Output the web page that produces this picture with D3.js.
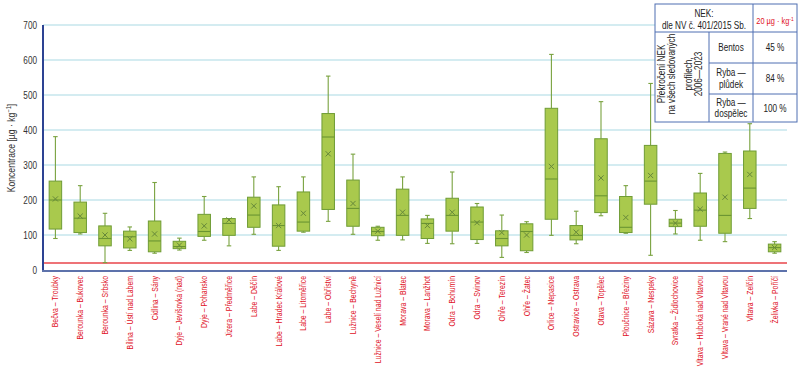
<!DOCTYPE html>
<html>
<head>
<meta charset="utf-8">
<script src="https://cdn.jsdelivr.net/npm/d3@7/dist/d3.min.js"></script>
<style>
  html, body { margin: 0; padding: 0; background: #fff; }
  svg { display: block; }
  text { font-family: "Liberation Sans", Arial, sans-serif; }
</style>
</head>
<body>
<svg id="chart" width="800" height="373"></svg>
<script>
const categories = [
  "Bečva – Troubky", "Berounka – Bukovec", "Berounka – Srbsko", "Bílina – Ústí nad Labem",
  "Cidlina – Sány", "Dyje – Jevišovka (nad)", "Dyje – Pohansko", "Jizera – Předměřice",
  "Labe – Děčín", "Labe – Hradec Králové", "Labe – Litoměřice", "Labe – Obříství",
  "Lužnice – Bechyně", "Lužnice – Veselí nad Lužnicí", "Morava – Blatec", "Morava – Lanžhot",
  "Odra – Bohumín", "Odra – Svinov", "Ohře – Terezín", "Ohře – Žatec",
  "Orlice – Nepasice", "Ostravice – Ostrava", "Otava – Topělec", "Ploučnice – Březiny",
  "Sázava – Nespeky", "Svratka – Židlochovice", "Vltava – Hluboká nad Vltavou",
  "Vltava – Vrané nad Vltavou", "Vltava – Zelčín", "Želivka – Poříčí"
];
const mins    = [ 90, 103,  21,  56,  48,  57,  85,  69, 102,  56, 108, 139, 102,  85,  86,  76,  75,  76,  36,  50,  99,  75, 155, 105,  42, 103,  85,  81, 147,  48];
const q1s     = [117, 107,  69,  63,  52,  61,  96,  99, 122,  68, 111, 173, 125,  98,  99,  90, 111,  87,  69,  55, 145,  86, 164, 107, 188, 124, 125, 105, 176,  52];
const medians = [200, 148,  90,  95,  83,  67, 110, 133, 157, 127, 137, 380, 176, 110, 156, 133, 156, 137,  90, 110, 260,  99, 212, 122, 254, 134, 171, 156, 234,  64];
const q3s     = [254, 194, 126, 111, 140,  82, 159, 147, 208, 186, 223, 447, 257, 122, 231, 146, 205, 180, 112, 132, 462, 127, 375, 210, 356, 145, 220, 333, 340,  74];
const maxs    = [381, 241, 162, 123, 250,  91, 210, 146, 266, 238, 266, 554, 331, 125, 266, 156, 280, 190, 157, 138, 616, 168, 481, 241, 533, 170, 276, 337, 418,  81];
const means   = [203, 154, 100,  89, 103,  71, 126, 143, 183, 127, 162, 332, 190, 111, 165, 127, 165, 135, 107, 100, 296, 108, 263, 150, 270, 134, 174, 208, 273,  64];
const yTicks  = [0, 100, 200, 300, 400, 500, 600, 700];
const limitValue = 20;

const tableRows = [
  { label: ["Bentos"], value: "45 %" },
  { label: ["Ryba —", "plůdek"], value: "84 %" },
  { label: ["Ryba —", "dospělec"], value: "100 %" }
];

const svg = d3.select("#chart");
const pLeft = 43, pRight = 787, pTop = 25, pBottom = 270;
const NARROW = 0.82; // emulate a condensed typeface

const x = d3.scaleBand().domain(categories).range([pLeft, pRight]);
const y = d3.scaleLinear().domain([0, 700]).range([pBottom, pTop]);

// gridlines
svg.append("g").selectAll("line").data(yTicks.filter(t => t > 0)).join("line")
  .attr("x1", pLeft).attr("x2", pRight)
  .attr("y1", d => y(d)).attr("y2", d => y(d))
  .attr("stroke", "#d4ecf1").attr("stroke-width", 2);

// limit line (NEK 20)
svg.append("line")
  .attr("x1", pLeft).attr("x2", pRight)
  .attr("y1", y(limitValue)).attr("y2", y(limitValue))
  .attr("stroke", "#e8454a").attr("stroke-width", 1.6);

// y axis labels
const yAxis = d3.axisLeft(y).tickValues(yTicks).tickSize(0).tickPadding(6);
const gy = svg.append("g").attr("transform", `translate(${pLeft},0)`).call(yAxis);
gy.select(".domain").remove();
gy.selectAll("text")
  .attr("x", 0)
  .attr("transform", `translate(-6,0) scale(${NARROW},1)`)
  .attr("font-size", 10).attr("fill", "#333")
  .style("font-family", '"Liberation Sans", Arial, sans-serif');

// axes lines
svg.append("line").attr("x1", pLeft).attr("x2", pLeft).attr("y1", pTop).attr("y2", pBottom + 2)
  .attr("stroke", "#2d4393").attr("stroke-width", 2);
svg.append("line").attr("x1", pLeft - 1).attr("x2", pRight).attr("y1", pBottom + 1).attr("y2", pBottom + 1)
  .attr("stroke", "#5d72ab").attr("stroke-width", 2);

// y title
const yt = svg.append("text")
  .attr("transform", `translate(15,${148}) rotate(-90) scale(${NARROW},1)`)
  .attr("text-anchor", "middle").attr("font-size", 10.5).attr("fill", "#333");
yt.append("tspan").text("Koncentrace [µg · kg");
yt.append("tspan").attr("font-size", 7).attr("dy", -4).text("−1");
yt.append("tspan").attr("dy", 4).text("]");

// boxes
const bw = 12.5, capW = 4.5;
const idx = d3.range(categories.length);
const g = svg.append("g");
const boxes = g.selectAll("g.box").data(idx).join("g").attr("class", "box")
  .attr("transform", i => `translate(${x(categories[i]) + x.bandwidth() / 2},0)`);

const wc = "#79a23f";
boxes.append("line").attr("x1", 0).attr("x2", 0)
  .attr("y1", i => y(maxs[i])).attr("y2", i => y(q3s[i]))
  .attr("stroke", wc).attr("stroke-width", 1.1);
boxes.append("line").attr("x1", 0).attr("x2", 0)
  .attr("y1", i => y(q1s[i])).attr("y2", i => y(mins[i]))
  .attr("stroke", wc).attr("stroke-width", 1.1);
boxes.append("line").attr("x1", -capW / 2).attr("x2", capW / 2)
  .attr("y1", i => y(maxs[i])).attr("y2", i => y(maxs[i]))
  .attr("stroke", wc).attr("stroke-width", 1.1);
boxes.append("line").attr("x1", -capW / 2).attr("x2", capW / 2)
  .attr("y1", i => y(mins[i])).attr("y2", i => y(mins[i]))
  .attr("stroke", wc).attr("stroke-width", 1.1);
boxes.append("rect")
  .attr("x", -bw / 2).attr("width", bw)
  .attr("y", i => y(q3s[i])).attr("height", i => y(q1s[i]) - y(q3s[i]))
  .attr("fill", "#a9c94d").attr("stroke", "#6f9c35").attr("stroke-width", 1);
boxes.append("line").attr("x1", -bw / 2).attr("x2", bw / 2)
  .attr("y1", i => y(medians[i])).attr("y2", i => y(medians[i]))
  .attr("stroke", "#6a9432").attr("stroke-width", 1.1);
const m = 2.6;
boxes.append("path")
  .attr("d", i => { const cy = y(means[i]); return `M${-m},${cy - m}L${m},${cy + m}M${-m},${cy + m}L${m},${cy - m}`; })
  .attr("stroke", "#66883a").attr("stroke-width", 1).attr("fill", "none");

// x labels
svg.append("g").selectAll("text").data(categories).join("text")
  .attr("transform", d => `translate(${x(d) + x.bandwidth() / 2 + 3},276) rotate(-90) scale(${NARROW},1)`)
  .attr("text-anchor", "end").attr("font-size", 8.4).attr("fill", "#e0101e")
  .text(d => d);

// table
const T = { x0: 655, x1: 709, x2: 753, x3: 797, y0: 4, y1: 32, y2: 63, y3: 94, y4: 122 };
const tg = svg.append("g");
tg.append("rect").attr("x", T.x0).attr("y", T.y0).attr("width", T.x3 - T.x0).attr("height", T.y4 - T.y0)
  .attr("fill", "#fff").attr("stroke", "#4f6fb2").attr("stroke-width", 1);
const tl = (x1, y1, x2, y2) => tg.append("line").attr("x1", x1).attr("y1", y1).attr("x2", x2).attr("y2", y2)
  .attr("stroke", "#4f6fb2").attr("stroke-width", 1);
tl(T.x0, T.y1, T.x3, T.y1);
tl(T.x2, T.y0, T.x2, T.y4);
tl(T.x1, T.y1, T.x1, T.y4);
tl(T.x1, T.y2, T.x3, T.y2);
tl(T.x1, T.y3, T.x3, T.y3);

const fs = 10;
const htext = (tx, ty, str, opts = {}) => tg.append("text")
  .attr("transform", `translate(${tx},${ty}) scale(${NARROW},1)`)
  .attr("text-anchor", "middle").attr("font-size", opts.fs || fs).attr("fill", opts.fill || "#222")
  .text(str);

htext(704, 17, "NEK:");
htext(704, 29, "dle NV č. 401/2015 Sb.");
const rt = htext(775, 24, "", { fs: 9, fill: "#e0101e" });
rt.append("tspan").text("20 µg · kg");
rt.append("tspan").attr("font-size", 6).attr("dy", -3).text("-1");

const rotLines = [["Překročení NEK", 665], ["na všech sledovaných", 675], ["profilech,", 692], ["2006—2023", 702]];
rotLines.forEach(([t, xx]) => {
  tg.append("text").attr("transform", `translate(${xx},${74}) rotate(-90) scale(${NARROW},1)`)
    .attr("text-anchor", "middle").attr("font-size", fs).attr("fill", "#222").text(t);
});

const rowBounds = [[T.y1, T.y2], [T.y2, T.y3], [T.y3, T.y4]];
tableRows.forEach((r, k) => {
  const [a, b] = rowBounds[k];
  const mid = (a + b) / 2;
  const n = r.label.length;
  r.label.forEach((ln, j) => {
    htext((T.x1 + T.x2) / 2, mid + 3.5 + (j - (n - 1) / 2) * 11.5, ln);
  });
  htext((T.x2 + T.x3) / 2, mid + 3.5, r.value);
});
</script>
</body>
</html>
